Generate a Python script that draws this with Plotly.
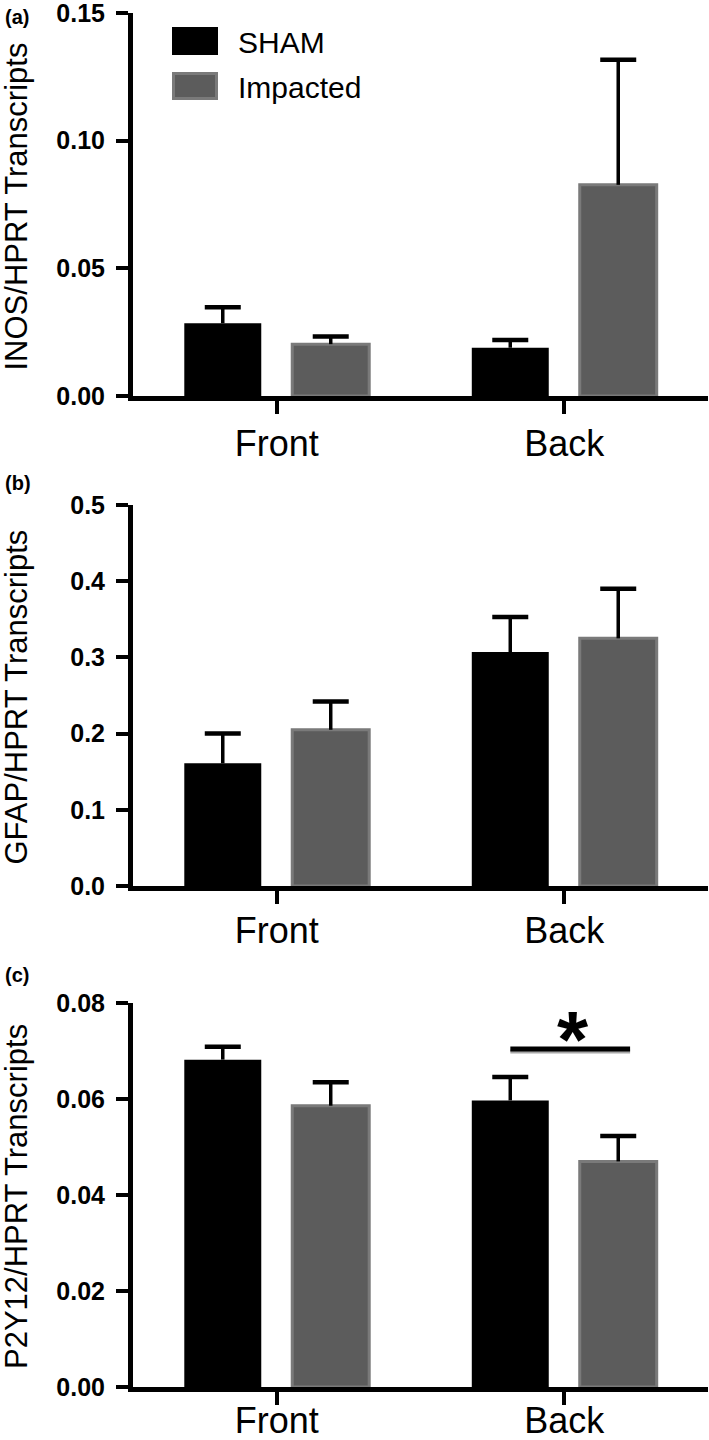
import plotly.graph_objects as go

# ---------------- data ----------------
regions = ["Front", "Back"]
groups = ["SHAM", "Impacted"]

inos_sham = [0.0285, 0.0189]
inos_sham_err = [0.0063, 0.0030]
inos_imp = [0.0203, 0.0827]
inos_imp_err = [0.0030, 0.0490]

gfap_sham = [0.161, 0.307]
gfap_sham_err = [0.039, 0.046]
gfap_imp = [0.205, 0.325]
gfap_imp_err = [0.037, 0.065]

p2y12_sham = [0.0682, 0.0597]
p2y12_sham_err = [0.0027, 0.0049]
p2y12_imp = [0.0586, 0.0470]
p2y12_imp_err = [0.0049, 0.0053]

y_titles = ["INOS/HPRT Transcripts", "GFAP/HPRT Transcripts", "P2Y12/HPRT Transcripts"]
panel_letters = ["(a)", "(b)", "(c)"]
inos_ticks = [0.0, 0.05, 0.10, 0.15]
gfap_ticks = [0.0, 0.1, 0.2, 0.3, 0.4, 0.5]
p2y12_ticks = [0.0, 0.02, 0.04, 0.06, 0.08]
inos_ticklabels = ["0.00", "0.05", "0.10", "0.15"]
gfap_ticklabels = ["0.0", "0.1", "0.2", "0.3", "0.4", "0.5"]
p2y12_ticklabels = ["0.00", "0.02", "0.04", "0.06", "0.08"]

# significance marker in panel (c): between SHAM and Impacted at "Back"
sig_x_from = 0.8125
sig_x_to = 1.229
sig_level = 0.0704
sig_text = "*"

# ---------------- style ----------------
W, H = 709, 1440
ML = 133
PW = W - ML - 1
FONT = "Arial, Liberation Sans, Helvetica, sans-serif"
SHAM_COLOR = "#000000"
IMP_FILL = "#5c5c5c"
IMP_LINE = "#7a7a7a"

# pixel positions of each panel (top, bottom)
panel_px = [(13, 396), (505, 886), (1003, 1387)]
xlabel_standoff = [-1, -4, -15]


def py(px):
    return (H - px) / H


def pxx(px):
    return (px - ML) / PW


fig = go.Figure()

datasets = [
    (inos_sham, inos_sham_err, inos_imp, inos_imp_err, inos_ticks, inos_ticklabels),
    (gfap_sham, gfap_sham_err, gfap_imp, gfap_imp_err, gfap_ticks, gfap_ticklabels),
    (p2y12_sham, p2y12_sham_err, p2y12_imp, p2y12_imp_err, p2y12_ticks, p2y12_ticklabels),
]

layout_axes = {}
annotations = []
shapes = []

for i, (s, se, m, me, tv, tt) in enumerate(datasets):
    n = i + 1
    xa = "x" if n == 1 else f"x{n}"
    ya = "y" if n == 1 else f"y{n}"
    series = [
        (groups[0], s, se, dict(color=SHAM_COLOR, line=dict(width=0)), "sham"),
        (groups[1], m, me, dict(color=IMP_FILL, line=dict(width=3, color=IMP_LINE)), "imp"),
    ]
    for name, vals, errs, marker, og in series:
        # bar with the error stem (upward only)
        fig.add_trace(go.Bar(
            x=regions, y=vals, name=name, xaxis=xa, yaxis=ya, offsetgroup=og,
            marker=marker,
            error_y=dict(type="data", symmetric=False, array=errs, arrayminus=[0] * len(errs),
                         color="black", thickness=3.5, width=0),
            showlegend=False,
        ))
        # cap at the top of the error bar (transparent carrier bar)
        fig.add_trace(go.Bar(
            x=regions, y=[v + e for v, e in zip(vals, errs)], name=name + " SEM",
            xaxis=xa, yaxis=ya, offsetgroup=og,
            marker=dict(color="rgba(0,0,0,0)", line=dict(width=0)),
            error_y=dict(type="data", symmetric=False, array=[0] * len(errs),
                         arrayminus=[0] * len(errs), color="black", thickness=4.5, width=18),
            showlegend=False, hoverinfo="skip",
        ))
    top, bot = panel_px[i]
    layout_axes["xaxis" if n == 1 else f"xaxis{n}"] = dict(
        domain=[0, 1], anchor=ya, type="category", range=[-0.5, 1.5],
        showline=True, linewidth=5, linecolor="black",
        ticks="outside", ticklen=13, tickwidth=4, tickcolor="black",
        tickfont=dict(family=FONT, size=36, color="black"),
        ticklabelstandoff=xlabel_standoff[i], automargin=False,
        ticklabeloverflow="allow",
        showgrid=False, zeroline=False, fixedrange=True,
    )
    layout_axes["yaxis" if n == 1 else f"yaxis{n}"] = dict(
        domain=[py(bot), py(top)], anchor=xa, range=[0, max(tv)],
        tickmode="array", tickvals=tv, ticktext=tt,
        showline=True, linewidth=5, linecolor="black",
        ticks="outside", ticklen=12, tickwidth=4, tickcolor="black",
        tickfont=dict(family=FONT, size=25, color="black", weight="bold"),
        ticklabelstandoff=6, automargin=False, ticklabeloverflow="allow",
        showgrid=False, zeroline=False, fixedrange=True,
    )
    # y-axis title
    annotations.append(dict(
        text=y_titles[i], xref="paper", yref="paper", x=pxx(16), y=py((top + bot) / 2 + 2),
        xanchor="center", yanchor="middle", textangle=-90, showarrow=False,
        font=dict(family=FONT, size=31, color="black"),
    ))
    # panel letter
    annotations.append(dict(
        text=panel_letters[i], xref="paper", yref="paper", x=pxx(3),
        y=py([17, 483, 975][i]), xanchor="left", yanchor="middle", showarrow=False,
        font=dict(family=FONT, size=20, color="black", weight="bold"),
    ))

# legend (drawn manually to match the large swatches)
shapes.append(dict(type="rect", xref="paper", yref="paper",
                   x0=pxx(172), x1=pxx(218), y0=py(55), y1=py(27),
                   fillcolor=SHAM_COLOR, line=dict(width=0)))
shapes.append(dict(type="rect", xref="paper", yref="paper",
                   x0=pxx(173.5), x1=pxx(216.5), y0=py(98.5), y1=py(73.5),
                   fillcolor=IMP_FILL, line=dict(width=3, color=IMP_LINE)))
annotations.append(dict(text=groups[0], xref="paper", yref="paper", x=pxx(236), y=py(42),
                        xanchor="left", yanchor="middle", showarrow=False,
                        font=dict(family=FONT, size=30, color="black")))
annotations.append(dict(text=groups[1], xref="paper", yref="paper", x=pxx(236), y=py(87),
                        xanchor="left", yanchor="middle", showarrow=False,
                        font=dict(family=FONT, size=30, color="black")))

# significance bar in panel (c)
shapes.append(dict(type="line", xref="x3", yref="y3", x0=sig_x_from, x1=sig_x_to,
                   y0=sig_level - 0.0005, y1=sig_level - 0.0005,
                   line=dict(color="#a8a8a8", width=4)))
shapes.append(dict(type="line", xref="x3", yref="y3", x0=sig_x_from, x1=sig_x_to,
                   y0=sig_level, y1=sig_level, line=dict(color="black", width=5)))
annotations.append(dict(text=sig_text, xref="x3", yref="y3", x=(sig_x_from + sig_x_to) / 2,
                        y=sig_level, xanchor="center", yanchor="bottom", yshift=-37, xshift=3,
                        showarrow=False,
                        font=dict(family=FONT, size=80, color="black", weight="bold")))

fig.update_layout(
    width=W, height=H,
    margin=dict(l=ML, r=1, t=0, b=0, autoexpand=False),
    paper_bgcolor="white", plot_bgcolor="white",
    barmode="group", bargap=0.249, bargroupgap=0.287,
    showlegend=False,
    annotations=annotations, shapes=shapes,
    **layout_axes,
)

fig.write_html(
    "out.html",
    config={"displayModeBar": False},
    post_script="document.body.style.margin='0';document.body.style.overflow='hidden';",
)
